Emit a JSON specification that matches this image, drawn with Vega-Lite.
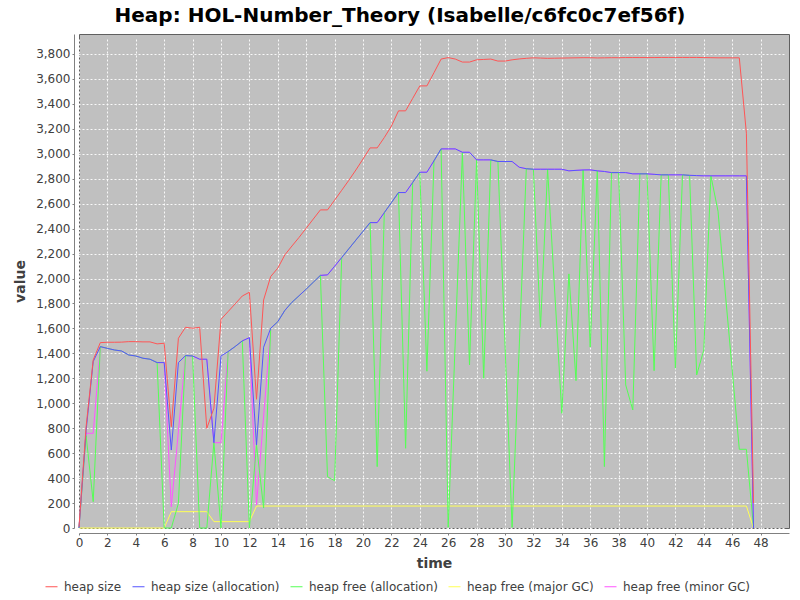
{
  "$schema": "https://vega.github.io/schema/vega-lite/v6.json",
  "width": 710,
  "height": 494,
  "autosize": {"type": "none"},
  "padding": {"left": 79, "top": 34, "right": 11, "bottom": 72},
  "background": "white",
  "title": {"text": "Heap: HOL-Number_Theory (Isabelle/c6fc0c7ef56f)", "font": "DejaVu Sans", "fontSize": 20, "fontWeight": "bold", "color": "#000000", "anchor": "middle", "dx": -34, "offset": 8},
  "config": {
    "view": {"fill": "#c0c0c0", "stroke": "#606060", "strokeWidth": 1},
    "axis": {
      "labelFont": "DejaVu Sans", "labelFontSize": 12, "labelColor": "#404040", "labelFlush": false,
      "titleFont": "DejaVu Sans", "titleFontSize": 14, "titleFontWeight": "bold", "titleColor": "#404040",
      "domainColor": "#808080", "tickColor": "#808080", "tickSize": 2, "labelPadding": 2,
      "grid": true, "gridColor": "#ffffff", "gridDash": [2, 2], "gridWidth": 1, "gridOpacity": 0.9, "offset": 5
    },
    "legend": {"labelFont": "DejaVu Sans", "labelFontSize": 12, "labelColor": "#404040"}
  },
  "datasets": {
    "red": [{"t":0,"v":10},{"t":0.5,"v":812},{"t":1,"v":1347},{"t":1.5,"v":1486},{"t":2,"v":1489},{"t":2.5,"v":1489},{"t":3,"v":1490},{"t":3.5,"v":1494},{"t":4,"v":1494},{"t":4.5,"v":1492},{"t":5,"v":1492},{"t":5.5,"v":1476},{"t":6,"v":1481},{"t":6.5,"v":812},{"t":7,"v":1521},{"t":7.5,"v":1609},{"t":8,"v":1601},{"t":8.5,"v":1609},{"t":9,"v":799},{"t":9.5,"v":960},{"t":10,"v":1673},{"t":10.5,"v":1735},{"t":11,"v":1797},{"t":11.5,"v":1860},{"t":12,"v":1890},{"t":12.5,"v":1032},{"t":13,"v":1828},{"t":13.5,"v":2016},{"t":14,"v":2083},{"t":14.5,"v":2190},{"t":15,"v":2261},{"t":15.5,"v":2330},{"t":16,"v":2403},{"t":16.5,"v":2477},{"t":17,"v":2550},{"t":17.5,"v":2550},{"t":18,"v":2628},{"t":18.5,"v":2707},{"t":19,"v":2787},{"t":19.5,"v":2870},{"t":20,"v":2958},{"t":20.5,"v":3047},{"t":21,"v":3047},{"t":21.5,"v":3130},{"t":22,"v":3222},{"t":22.5,"v":3344},{"t":23,"v":3344},{"t":23.5,"v":3444},{"t":24,"v":3544},{"t":24.5,"v":3544},{"t":25,"v":3650},{"t":25.5,"v":3759},{"t":26,"v":3771},{"t":26.5,"v":3759},{"t":27,"v":3735},{"t":27.5,"v":3735},{"t":28,"v":3753},{"t":28.5,"v":3756},{"t":29,"v":3759},{"t":29.5,"v":3743},{"t":30,"v":3743},{"t":30.5,"v":3753},{"t":31,"v":3760},{"t":31.5,"v":3765},{"t":32,"v":3769},{"t":32.5,"v":3767},{"t":33,"v":3765},{"t":33.5,"v":3766},{"t":34,"v":3767},{"t":34.5,"v":3768},{"t":35,"v":3769},{"t":35.5,"v":3770},{"t":36,"v":3770},{"t":36.5,"v":3768},{"t":37,"v":3769},{"t":37.5,"v":3770},{"t":38,"v":3770},{"t":38.5,"v":3771},{"t":39,"v":3771},{"t":39.5,"v":3771},{"t":40,"v":3771},{"t":40.5,"v":3771},{"t":41,"v":3772},{"t":41.5,"v":3772},{"t":42,"v":3772},{"t":42.5,"v":3772},{"t":43,"v":3772},{"t":43.5,"v":3772},{"t":44,"v":3771},{"t":44.5,"v":3770},{"t":45,"v":3769},{"t":45.5,"v":3769},{"t":46,"v":3769},{"t":46.5,"v":3769},{"t":47,"v":3165},{"t":47.5,"v":200}],
    "blue": [{"t":0,"v":0},{"t":0.5,"v":780},{"t":1,"v":1334},{"t":1.5,"v":1454},{"t":2,"v":1440},{"t":2.5,"v":1427},{"t":3,"v":1419},{"t":3.5,"v":1387},{"t":4,"v":1379},{"t":4.5,"v":1361},{"t":5,"v":1353},{"t":5.5,"v":1326},{"t":6,"v":1326},{"t":6.5,"v":625},{"t":7,"v":1326},{"t":7.5,"v":1382},{"t":8,"v":1379},{"t":8.5,"v":1353},{"t":9,"v":1353},{"t":9.5,"v":684},{"t":10,"v":1379},{"t":10.5,"v":1414},{"t":11,"v":1455},{"t":11.5,"v":1500},{"t":12,"v":1526},{"t":12.5,"v":666},{"t":13,"v":1449},{"t":13.5,"v":1601},{"t":14,"v":1654},{"t":14.5,"v":1745},{"t":15,"v":1810},{"t":15.5,"v":1862},{"t":16,"v":1915},{"t":16.5,"v":1970},{"t":17,"v":2025},{"t":17.5,"v":2029},{"t":18,"v":2098},{"t":18.5,"v":2168},{"t":19,"v":2238},{"t":19.5,"v":2308},{"t":20,"v":2378},{"t":20.5,"v":2448},{"t":21,"v":2448},{"t":21.5,"v":2528},{"t":22,"v":2608},{"t":22.5,"v":2689},{"t":23,"v":2689},{"t":23.5,"v":2770},{"t":24,"v":2852},{"t":24.5,"v":2852},{"t":25,"v":2944},{"t":25.5,"v":3039},{"t":26,"v":3039},{"t":26.5,"v":3039},{"t":27,"v":3012},{"t":27.5,"v":3012},{"t":28,"v":2951},{"t":28.5,"v":2951},{"t":29,"v":2951},{"t":29.5,"v":2938},{"t":30,"v":2938},{"t":30.5,"v":2938},{"t":31,"v":2892},{"t":31.5,"v":2880},{"t":32,"v":2876},{"t":32.5,"v":2876},{"t":33,"v":2876},{"t":33.5,"v":2876},{"t":34,"v":2876},{"t":34.5,"v":2863},{"t":35,"v":2867},{"t":35.5,"v":2870},{"t":36,"v":2871},{"t":36.5,"v":2863},{"t":37,"v":2858},{"t":37.5,"v":2849},{"t":38,"v":2849},{"t":38.5,"v":2849},{"t":39,"v":2839},{"t":39.5,"v":2839},{"t":40,"v":2839},{"t":40.5,"v":2835},{"t":41,"v":2831},{"t":41.5,"v":2831},{"t":42,"v":2831},{"t":42.5,"v":2831},{"t":43,"v":2827},{"t":43.5,"v":2825},{"t":44,"v":2823},{"t":44.5,"v":2823},{"t":45,"v":2823},{"t":45.5,"v":2823},{"t":46,"v":2823},{"t":46.5,"v":2823},{"t":47,"v":2823},{"t":47.5,"v":0}],
    "green": [{"t":0,"v":0},{"t":0.5,"v":740},{"t":1,"v":211},{"t":1.5,"v":1454},{"t":2,"v":1440},{"t":2.5,"v":1427},{"t":3,"v":1419},{"t":3.5,"v":1387},{"t":4,"v":1379},{"t":4.5,"v":1361},{"t":5,"v":1353},{"t":5.5,"v":1326},{"t":6,"v":0},{"t":6.5,"v":0},{"t":7,"v":198},{"t":7.5,"v":1382},{"t":8,"v":1379},{"t":8.5,"v":0},{"t":9,"v":0},{"t":9.5,"v":684},{"t":10,"v":0},{"t":10.5,"v":1414},{"t":11,"v":1455},{"t":11.5,"v":1500},{"t":12,"v":0},{"t":12.5,"v":666},{"t":13,"v":160},{"t":13.5,"v":1601},{"t":14,"v":1654},{"t":14.5,"v":1745},{"t":15,"v":1810},{"t":15.5,"v":1862},{"t":16,"v":1915},{"t":16.5,"v":1970},{"t":17,"v":2025},{"t":17.5,"v":411},{"t":18,"v":379},{"t":18.5,"v":2168},{"t":19,"v":2238},{"t":19.5,"v":2308},{"t":20,"v":2378},{"t":20.5,"v":2448},{"t":21,"v":492},{"t":21.5,"v":2528},{"t":22,"v":2608},{"t":22.5,"v":2689},{"t":23,"v":639},{"t":23.5,"v":2770},{"t":24,"v":2852},{"t":24.5,"v":1257},{"t":25,"v":2944},{"t":25.5,"v":3039},{"t":26,"v":5},{"t":27,"v":3010},{"t":27.5,"v":1307},{"t":28,"v":2951},{"t":28.5,"v":1200},{"t":29,"v":2951},{"t":29.5,"v":2938},{"t":30.5,"v":5},{"t":31.5,"v":2880},{"t":32,"v":2876},{"t":32.5,"v":1609},{"t":33,"v":2876},{"t":34,"v":920},{"t":34.5,"v":2037},{"t":35,"v":1181},{"t":35.5,"v":2870},{"t":36,"v":1450},{"t":36.5,"v":2863},{"t":37,"v":492},{"t":37.5,"v":2849},{"t":38,"v":2849},{"t":38.5,"v":1147},{"t":39,"v":946},{"t":39.5,"v":2839},{"t":40,"v":2839},{"t":40.5,"v":1261},{"t":41,"v":2831},{"t":41.5,"v":2831},{"t":42,"v":1281},{"t":42.5,"v":2831},{"t":43,"v":2827},{"t":43.5,"v":1227},{"t":44,"v":1427},{"t":44.5,"v":2823},{"t":45,"v":2540},{"t":46.5,"v":631},{"t":47,"v":631},{"t":47.5,"v":5}],
    "yellow": [{"t":0,"v":0},{"t":6,"v":0},{"t":6.5,"v":131},{"t":9,"v":131},{"t":9.5,"v":51},{"t":12,"v":51},{"t":12.5,"v":176},{"t":47,"v":176},{"t":47.5,"v":0}],
    "magenta": [{"t":0,"v":0},{"t":0.5,"v":759},{"t":1,"v":759},{"t":1.5,"v":1454},{"t":2,"v":1440},{"t":2.5,"v":1427},{"t":3,"v":1419},{"t":3.5,"v":1387},{"t":4,"v":1379},{"t":4.5,"v":1361},{"t":5,"v":1353},{"t":5.5,"v":1326},{"t":6,"v":1326},{"t":6.5,"v":170},{"t":7.5,"v":1382},{"t":8,"v":1379},{"t":8.5,"v":1353},{"t":9,"v":1353},{"t":9.5,"v":684},{"t":10,"v":684},{"t":10.5,"v":1414},{"t":11,"v":1455},{"t":11.5,"v":1500},{"t":12,"v":1526},{"t":12.5,"v":184},{"t":13.5,"v":1601},{"t":14,"v":1654},{"t":14.5,"v":1745},{"t":15,"v":1810},{"t":15.5,"v":1862},{"t":16,"v":1915},{"t":16.5,"v":1970},{"t":17,"v":2025},{"t":17.5,"v":2029},{"t":18,"v":2098},{"t":18.5,"v":2168},{"t":19,"v":2238},{"t":19.5,"v":2308},{"t":20,"v":2378},{"t":20.5,"v":2448},{"t":21,"v":2448},{"t":21.5,"v":2528},{"t":22,"v":2608},{"t":22.5,"v":2689},{"t":23,"v":2689},{"t":23.5,"v":2770},{"t":24,"v":2852},{"t":24.5,"v":2852},{"t":25,"v":2944},{"t":25.5,"v":3039},{"t":26,"v":3039},{"t":26.5,"v":3039},{"t":27,"v":3012},{"t":27.5,"v":3012},{"t":28,"v":2951},{"t":28.5,"v":2951},{"t":29,"v":2951},{"t":29.5,"v":2938},{"t":30,"v":2938},{"t":30.5,"v":2938},{"t":31,"v":2892},{"t":31.5,"v":2880},{"t":32,"v":2876},{"t":32.5,"v":2876},{"t":33,"v":2876},{"t":33.5,"v":2876},{"t":34,"v":2876},{"t":34.5,"v":2863},{"t":35,"v":2867},{"t":35.5,"v":2870},{"t":36,"v":2871},{"t":36.5,"v":2863},{"t":37,"v":2858},{"t":37.5,"v":2849},{"t":38,"v":2849},{"t":38.5,"v":2849},{"t":39,"v":2839},{"t":39.5,"v":2839},{"t":40,"v":2839},{"t":40.5,"v":2835},{"t":41,"v":2831},{"t":41.5,"v":2831},{"t":42,"v":2831},{"t":42.5,"v":2831},{"t":43,"v":2827},{"t":43.5,"v":2825},{"t":44,"v":2823},{"t":44.5,"v":2823},{"t":45,"v":2823},{"t":45.5,"v":2823},{"t":46,"v":2823},{"t":46.5,"v":2823},{"t":47,"v":2823},{"t":47.5,"v":0}]
  },
  "encoding": {
    "x": {"field": "t", "type": "quantitative", "scale": {"domain": [0, 50], "nice": false, "zero": false},
      "axis": {"title": "time", "values": [0,2,4,6,8,10,12,14,16,18,20,22,24,26,28,30,32,34,36,38,40,42,44,46,48], "titlePadding": 8}},
    "y": {"field": "v", "type": "quantitative", "scale": {"domain": [0, 3960], "nice": false},
      "axis": {"title": "value", "format": ",d", "values": [0,200,400,600,800,1000,1200,1400,1600,1800,2000,2200,2400,2600,2800,3000,3200,3400,3600,3800], "titlePadding": 8}}
  },
  "layer": [
    {"data": {"name": "magenta"}, "mark": {"type": "line", "strokeWidth": 1}, "encoding": {"color": {"datum": "heap free (minor GC)"}}},
    {"data": {"name": "yellow"}, "mark": {"type": "line", "strokeWidth": 1}, "encoding": {"color": {"datum": "heap free (major GC)"}}},
    {"data": {"name": "green"}, "mark": {"type": "line", "strokeWidth": 1}, "encoding": {"color": {"datum": "heap free (allocation)"}}},
    {"data": {"name": "blue"}, "mark": {"type": "line", "strokeWidth": 1}, "encoding": {"color": {"datum": "heap size (allocation)"}}},
    {"data": {"name": "red"}, "mark": {"type": "line", "strokeWidth": 1},
      "encoding": {"color": {"datum": "heap size", "type": "nominal",
        "scale": {"domain": ["heap size", "heap size (allocation)", "heap free (allocation)", "heap free (major GC)", "heap free (minor GC)"], "range": ["#ff5555", "#5555ff", "#55ff55", "#ffff55", "#ff55ff"]},
        "legend": {"title": null, "orient": "none", "legendX": -34, "legendY": 546, "direction": "horizontal", "columns": 5, "symbolType": "stroke", "symbolSize": 144, "symbolStrokeWidth": 1, "labelOffset": 6, "columnPadding": 8}}}}
  ]
}
